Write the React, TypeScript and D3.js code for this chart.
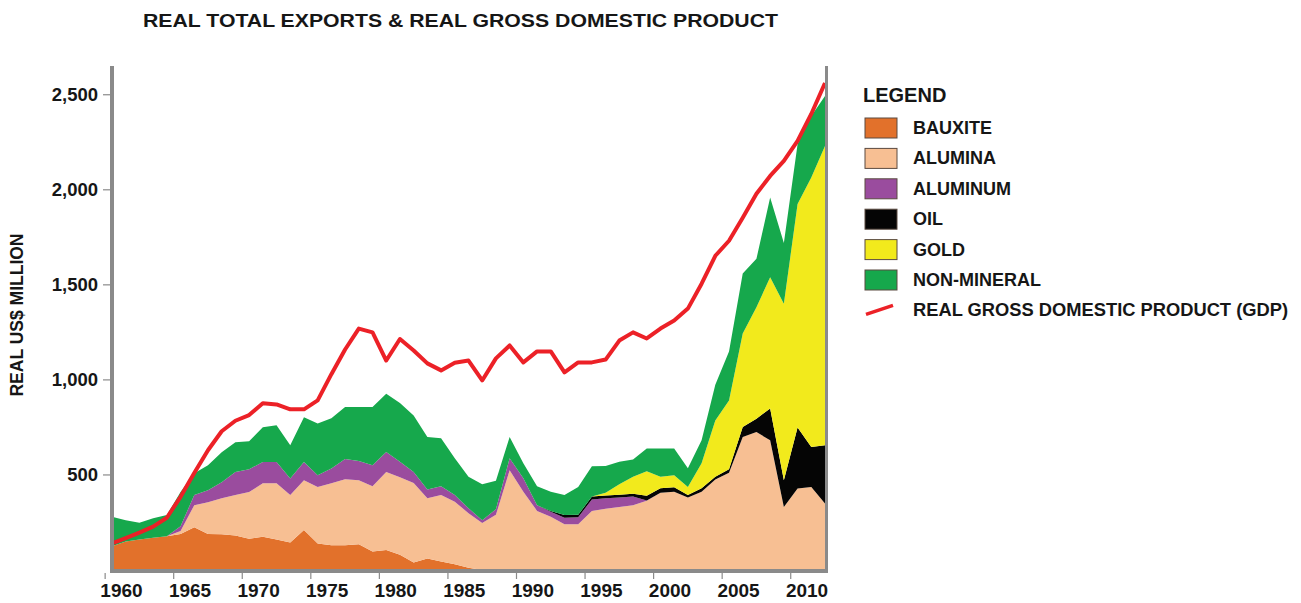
import React from "react";
import * as d3 from "d3";

const years = [
  1960, 1961, 1962, 1963, 1964, 1965, 1966, 1967, 1968, 1969,
  1970, 1971, 1972, 1973, 1974, 1975, 1976, 1977, 1978, 1979,
  1980, 1981, 1982, 1983, 1984, 1985, 1986, 1987, 1988, 1989,
  1990, 1991, 1992, 1993, 1994, 1995, 1996, 1997, 1998, 1999,
  2000, 2001, 2002, 2003, 2004, 2005, 2006, 2007, 2008, 2009,
  2010, 2011, 2012,
];

const bauxite = [
  125, 150, 160, 170, 178, 190, 225, 190, 188, 182,
  165, 175, 160, 145, 210, 140, 130, 130, 135, 97,
  105, 80, 40, 60, 45, 30, 12, 0, 0, 0,
  0, 0, 0, 0, 0, 0, 0, 0, 0, 0,
  0, 0, 0, 0, 0, 0, 0, 0, 0, 0,
  0, 0, 0,
];

const alumina = [
  0, 0, 0, 0, 0, 15, 116, 167, 190, 212,
  245, 281, 296, 249, 262, 297, 326, 347, 337, 344,
  411, 408, 418, 318, 349, 329, 287, 247, 290, 525,
  411, 311, 280, 241, 241, 311, 322, 331, 341, 364,
  406, 411, 381, 411, 476, 511, 700, 726, 682, 332,
  429, 437, 350,
];

const aluminum = [
  0, 0, 0, 0, 0, 25, 53, 63, 84, 121,
  120, 112, 112, 87, 96, 62, 78, 107, 102, 110,
  105, 81, 58, 45, 47, 35, 26, 15, 30, 63,
  72, 30, 26, 34, 37, 60, 55, 50, 45, 2,
  0, 0, 0, 0, 0, 0, 0, 0, 0, 0,
  0, 0, 0,
];

const oil = [
  0, 0, 0, 0, 0, 0, 0, 0, 0, 0,
  0, 0, 0, 0, 0, 0, 0, 0, 0, 0,
  0, 0, 0, 0, 0, 0, 0, 0, 0, 0,
  0, 0, 4, 14, 12, 15, 15, 15, 15, 24,
  24, 24, 14, 19, 14, 19, 52, 70, 168, 140,
  321, 210, 306,
];

const gold = [
  0, 0, 0, 0, 0, 0, 0, 0, 0, 0,
  0, 0, 0, 0, 0, 0, 0, 0, 0, 0,
  0, 0, 0, 0, 0, 0, 0, 0, 0, 0,
  0, 0, 0, 0, 0, 0, 15, 55, 90, 130,
  60, 64, 41, 132, 297, 362, 492, 586, 690, 928,
  1175, 1418, 1575,
];

const nonMineral = [
  155, 112, 88, 102, 111, 180, 115, 131, 158, 157,
  147, 183, 193, 175, 235, 271, 264, 273, 283, 306,
  306, 309, 297, 277, 252, 194, 165, 189, 150, 112,
  79, 100, 101, 105, 147, 160, 140, 118, 90, 119,
  149, 140, 99, 120, 188, 258, 316, 255, 420, 320,
  315, 323, 262,
];

const gdp = [
  140, 168, 197, 228, 275, 385, 510, 630, 730, 785,
  815, 877, 871, 845, 845, 892, 1030, 1160, 1270, 1250,
  1102, 1215, 1155, 1087, 1050, 1090, 1102, 997, 1113, 1181,
  1092, 1150, 1150, 1040, 1092, 1092, 1107, 1207, 1250, 1218,
  1270, 1312, 1375, 1506, 1653, 1732, 1853, 1979, 2073, 2152,
  2257, 2399, 2562,
];

const xTicks = [1960, 1965, 1970, 1975, 1980, 1985, 1990, 1995, 2000, 2005, 2010];
const yTicks = [500, 1000, 1500, 2000, 2500];

const seriesKeys = ["bauxite", "alumina", "aluminum", "oil", "gold", "nonMineral"];
const seriesLabels = ["BAUXITE", "ALUMINA", "ALUMINUM", "OIL", "GOLD", "NON-MINERAL"];
const seriesColors = ["#E2712B", "#F7BF93", "#9A4C9E", "#050505", "#F2EA1C", "#16A84C"];
const gdpLabel = "REAL GROSS DOMESTIC PRODUCT (GDP)";
const gdpColor = "#EC2127";

const title = "REAL TOTAL EXPORTS & REAL GROSS DOMESTIC PRODUCT";
const yAxisTitle = "REAL US$ MILLION";

const FONT = "'Liberation Sans', Arial, Helvetica, sans-serif";
const TEXT = "#161616";
const AXIS = "#8a8a8a";

export default function App() {
  const x = d3.scaleLinear().domain([1960, 2012]).range([112, 825]);
  const y = d3.scaleLinear().domain([0, 2500]).range([570, 94.75]);

  const seriesData: Record<string, number[]> = {
    bauxite, alumina, aluminum, oil, gold, nonMineral,
  };
  const rows = years.map((yr, i) => {
    const r: any = { year: yr };
    seriesKeys.forEach((k) => (r[k] = seriesData[k][i]));
    return r;
  });
  const stacked = d3.stack<any>().keys(seriesKeys)(rows);
  const area = d3
    .area<any>()
    .x((d) => x(d.data.year))
    .y0((d) => y(d[0]))
    .y1((d) => y(d[1]));
  const gdpLine = d3
    .line<number>()
    .x((_, i) => x(years[i]))
    .y((d) => y(d));

  const fmt = d3.format(",");
  const legendX = 865;
  const legendY0 = 118;
  const legendStep = 30.4;

  return (
    <svg
      width={1301}
      height={603}
      style={{ position: "absolute", left: 0, top: 0, background: "#fff" }}
      fontFamily={FONT}
    >
      <text
        x={143}
        y={27}
        fontSize={17.5}
        fontWeight="bold"
        fill={TEXT}
        textLength={635}
        lengthAdjust="spacingAndGlyphs"
      >
        {title}
      </text>

      {stacked.map((s, i) => (
        <path key={seriesKeys[i]} d={area(s) || ""} fill={seriesColors[i]} />
      ))}

      <path
        d={gdpLine(gdp) || ""}
        fill="none"
        stroke={gdpColor}
        strokeWidth={4}
        strokeLinejoin="round"
      />

      {/* frame */}
      <line x1={112} x2={112} y1={66} y2={572} stroke={AXIS} strokeWidth={4} />
      <line x1={110} x2={828} y1={571} y2={571} stroke={AXIS} strokeWidth={4} />
      <line x1={826.5} x2={826.5} y1={66} y2={572} stroke={AXIS} strokeWidth={3} />

      {yTicks.map((t) => (
        <g key={t}>
          <line x1={103} x2={110} y1={y(t)} y2={y(t)} stroke={AXIS} strokeWidth={1.2} />
          <text
            x={98}
            y={y(t) + 6.5}
            textAnchor="end"
            fontSize={18.5}
            fontWeight="bold"
            fill={TEXT}
          >
            {fmt(t)}
          </text>
        </g>
      ))}

      {xTicks.map((t) => (
        <g key={t}>
          <line
            x1={x(t - 0.5)}
            x2={x(t - 0.5)}
            y1={573}
            y2={579}
            stroke={AXIS}
            strokeWidth={1.2}
          />
          <text
            x={x(t) + 9.5}
            y={597}
            textAnchor="middle"
            fontSize={19}
            fontWeight="bold"
            fill={TEXT}
          >
            {t}
          </text>
        </g>
      ))}

      <text
        transform={`translate(23,315) rotate(-90)`}
        textAnchor="middle"
        fontSize={17.5}
        fontWeight="bold"
        fill={TEXT}
      >
        {yAxisTitle}
      </text>

      {/* legend */}
      <text x={863} y={102} fontSize={20} fontWeight="bold" fill={TEXT}>
        LEGEND
      </text>
      {seriesLabels.map((lab, i) => {
        const yy = legendY0 + i * legendStep;
        return (
          <g key={lab}>
            <rect
              x={legendX}
              y={yy}
              width={32}
              height={20}
              fill={seriesColors[i]}
              stroke="#5a4a40"
              strokeWidth={1}
            />
            <text x={913} y={yy + 16} fontSize={18} fontWeight="bold" fill={TEXT}>
              {lab}
            </text>
          </g>
        );
      })}
      <line
        x1={legendX + 1}
        y1={legendY0 + 6 * legendStep + 14}
        x2={legendX + 28}
        y2={legendY0 + 6 * legendStep + 5}
        stroke={gdpColor}
        strokeWidth={3.5}
      />
      <text
        x={913}
        y={legendY0 + 6 * legendStep + 16}
        fontSize={18}
        fontWeight="bold"
        fill={TEXT}
        textLength={375}
        lengthAdjust="spacingAndGlyphs"
      >
        {gdpLabel}
      </text>
    </svg>
  );
}
